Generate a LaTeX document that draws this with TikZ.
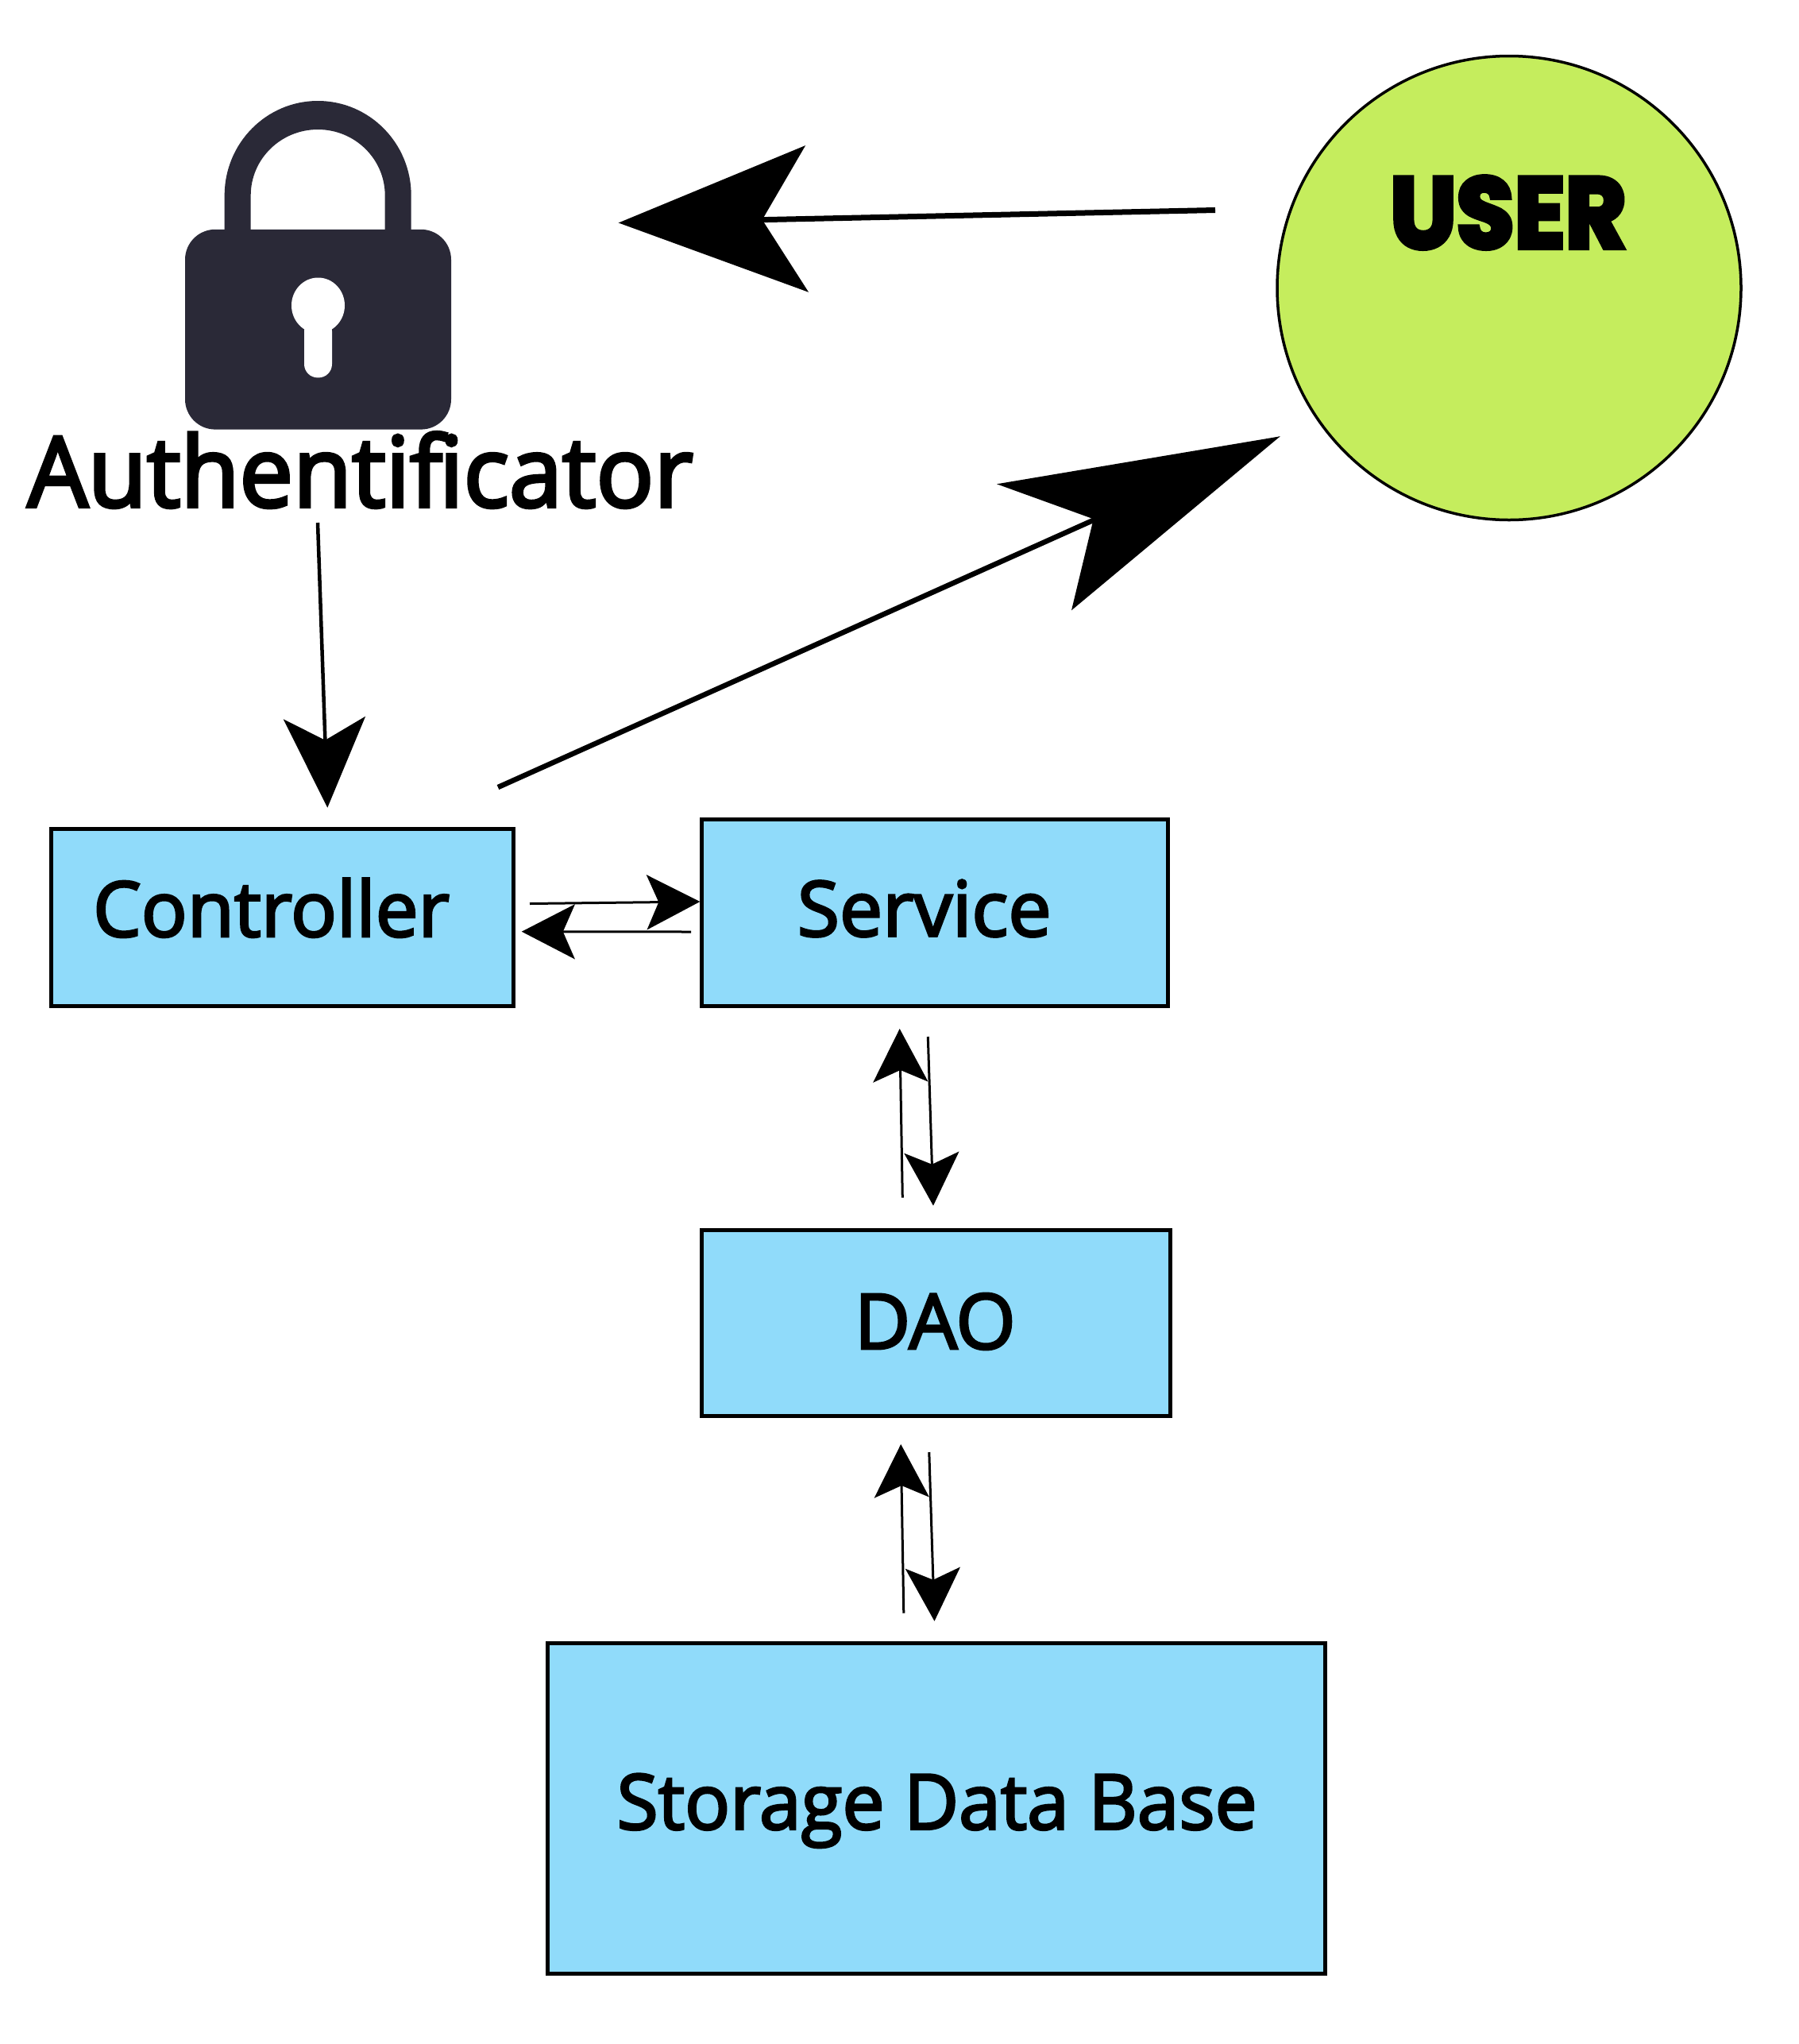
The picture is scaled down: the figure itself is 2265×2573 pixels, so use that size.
\documentclass[tikz,border=0pt]{standalone}
\usepackage{fontspec}
\usepackage{graphicx}
\usetikzlibrary{arrows.meta}
\setmainfont{Open Sans}
\newfontfamily\boxfont[FakeBold=3]{Open Sans}
\newfontfamily\authfont[FakeBold=3.5]{Open Sans}
\newfontfamily\userfont[FakeBold=5]{Poppins}
\definecolor{boxblue}{HTML}{90DBFA}
\definecolor{usergreen}{HTML}{C5ED5D}
\definecolor{lockdark}{HTML}{2A2937}
% dx, baseline below centre, text
\newcommand{\boxtext}[3]{\raisebox{-#2pt}[0pt][0pt]{\makebox[0pt]{\hspace*{#1pt}#3}}}
\tikzset{
  blockbox/.style={draw=black,fill=boxblue,line width=5pt,inner sep=0pt,outer sep=0pt,font=\boxfont\fontsize{96.6}{100}\selectfont},
  small head/.style={-{Stealth[length=67pt,width=69pt,inset=15pt]},line width=3pt,black},
}
\begin{document}
\begin{tikzpicture}[x=1pt,y=-1pt]
\useasboundingbox (0,0) rectangle (2265,2573);
% lock
\fill[lockdark]
  (282.7,295) -- (282.7,246) arc[start angle=180,end angle=360,x radius=117.5,y radius=119] -- (517.7,295) -- (484.7,295) -- (484.7,246)
  arc[start angle=360,end angle=180,x radius=84.5,y radius=83] -- (315.7,295) -- cycle;
\fill[lockdark,rounded corners=38pt] (233,288.8) rectangle (568,540.6);
\fill[white] (400.5,384.5) ellipse[x radius=33.5,y radius=35];
\fill[white,rounded corners=17pt] (383,400) rectangle (418,475.4);
\node[font=\authfont\fontsize{123}{130}\selectfont,inner sep=0pt,anchor=base] (auth) at (453.5,638) {\scalebox{0.98}[1]{Authentif\kern-4pt icator}};
% user
\node[circle,draw=black,fill=usergreen,line width=3.5pt,minimum size=584pt,inner sep=0pt,outer sep=0pt] (user) at (1900,362.5) {};
\node[font=\userfont\bfseries\fontsize{126}{130}\selectfont,inner sep=0pt,anchor=base] (usertext) at (1899,312) {\scalebox{0.94}[1]{USER}};
% boxes
\node[blockbox,minimum width=582pt,minimum height=223pt] (controller) at (355,1154.5) {\boxtext{-27}{24.5}{\scalebox{0.995}[1]{Controller}}};
\node[blockbox,minimum width=586.5pt,minimum height=235pt] (service) at (1176.75,1148.5) {\boxtext{-26}{30}{Service}};
\node[blockbox,minimum width=589.5pt,minimum height=234pt] (dao) at (1178.25,1665) {\boxtext{-2}{33}{DAO}};
\node[blockbox,minimum width=978.5pt,minimum height=416pt] (db) at (1178.75,2276) {\boxtext{2}{26.7}{\scalebox{0.98}[1]{Storage Data Base}}};
% free connector ends
\coordinate (a1) at (1530,264.5); \coordinate (a2) at (778.7,280.5);
\coordinate (b1) at (400,658); \coordinate (b2) at (412.3,1016.7);
\coordinate (c1) at (627,991); \coordinate (c2) at (1611.7,549.3);
\coordinate (d1) at (667,1137.5); \coordinate (d2) at (881.3,1135);
\coordinate (e1) at (870,1173); \coordinate (e2) at (656.8,1172.7);
\coordinate (f1) at (1136.3,1507.7); \coordinate (f2) at (1132.7,1295);
\coordinate (g1) at (1168.3,1305); \coordinate (g2) at (1175,1517.7);
\coordinate (h1) at (1137.8,2030.7); \coordinate (h2) at (1134.2,1818);
\coordinate (i1) at (1169.8,1828); \coordinate (i2) at (1176.5,2040.7);
% connectors
\draw[-{Stealth[length=237pt,width=184pt,inset=56pt]},line width=7pt] (a1) -- (a2);
\draw[-{Stealth[length=113pt,width=103pt,inset=28pt]},line width=4.5pt] (b1) -- (b2);
\draw[-{Stealth[length=150pt,width=60pt,inset=20pt]},line width=6.5pt] (c1) -- (c2);
\fill (c2) -- (1255,609.3) -- (1376.7,653.3) -- (1349,768.3) -- cycle;
\draw[small head] (d1) -- (d2);
\draw[small head] (e1) -- (e2);
\draw[small head] (f1) -- (f2);
\draw[small head] (g1) -- (g2);
\draw[small head] (h1) -- (h2);
\draw[small head] (i1) -- (i2);
\end{tikzpicture}
\end{document}
